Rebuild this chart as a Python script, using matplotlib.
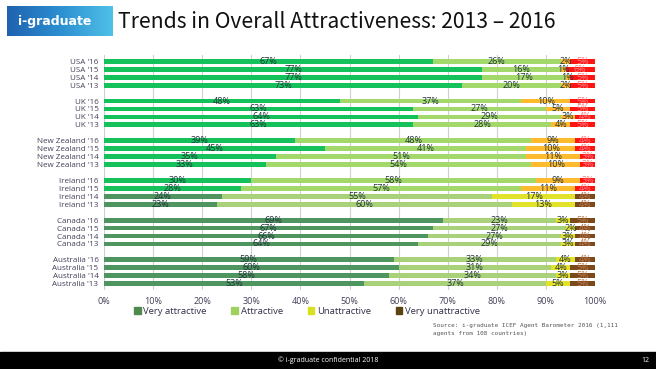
import matplotlib.pyplot as plt
from matplotlib.patches import Rectangle
import numpy as np

plt.rcParams['font.family'] = ['Open Sans', 'DejaVu Sans']

# rows top to bottom, None marks the gap between country groups
rows = ["USA '16", "USA '15", "USA '14", "USA '13", None,
        "UK '16", "UK '15", "UK '14", "UK '13", None,
        "New Zealand '16", "New Zealand '15", "New Zealand '14", "New Zealand '13", None,
        "Ireland '16", "Ireland '15", "Ireland '14", "Ireland '13", None,
        "Canada '16", "Canada '15", "Canada '14", "Canada '13", None,
        "Australia '16", "Australia '15", "Australia '14", "Australia '13"]

very_attractive = [67, 77, 77, 73, None, 48, 63, 64, 63, None,
                   39, 45, 35, 33, None, 30, 28, 24, 23, None,
                   69, 67, 66, 64, None, 59, 60, 58, 53]
attractive = [26, 16, 17, 20, None, 37, 27, 29, 28, None,
              48, 41, 51, 54, None, 58, 57, 55, 60, None,
              23, 27, 27, 29, None, 33, 31, 34, 37]
unattractive = [2, 1, 1, 2, None, 10, 5, 3, 4, None,
                9, 10, 11, 10, None, 9, 11, 17, 13, None,
                3, 2, 3, 3, None, 4, 4, 3, 5]
very_unattractive = [5, 6, 5, 5, None, 5, 5, 4, 5, None,
                     4, 4, 3, 3, None, 3, 4, 4, 4, None,
                     5, 4, 4, 4, None, 4, 5, 5, 5]

legend_labels = ['Very attractive', 'Attractive', 'Unattractive', 'Very unattractive']

# two colour schemes appear on the slide (bright vs. muted rows)
bright = ['#14c15a', '#a3d96a', '#ffbb2e', '#ff1414']
muted = ['#4f9560', '#a9d17a', '#e2e22a', '#7a4a1c']
scheme = ['b'] * 17 + ['m'] * 12

fig = plt.figure(figsize=(6.56, 3.69), dpi=100)

# header logo + title
logo = fig.add_axes([7 / 656, 1 - 36 / 369, 105 / 656, 30 / 369])
grad = np.linspace(0, 1, 200).reshape(1, -1)
logo.imshow(grad, aspect='auto', cmap=plt.matplotlib.colors.LinearSegmentedColormap.from_list(
    'g', ['#1f62b0', '#2c8fd0', '#4fc0e8']), extent=[0, 1, 0, 1])
logo.text(0.45, 0.5, 'i-graduate', color='white', fontsize=9, fontweight='bold',
          ha='center', va='center', family=['DejaVu Sans'])
logo.axis('off')
fig.text(118 / 656, 1 - 22 / 369, 'Trends in Overall Attractiveness: 2013 \u2013 2016',
         fontsize=15.2, va='center', ha='left', color='#111111', family=['Noto Sans CJK KR', 'DejaVu Sans'])

ax = fig.add_axes([104 / 656, 1 - 290 / 369, 491 / 656, (290 - 55) / 369])

for i, lab in enumerate(rows):
    if lab is None:
        continue
    cols = bright if scheme[i] == 'b' else muted
    vals = [very_attractive[i], attractive[i], unattractive[i], very_unattractive[i]]
    left = 0
    for k, v in enumerate(vals):
        w = v if k < 3 else 100 - left
        ax.barh(i, w, left=left, height=0.6, color=cols[k], zorder=2)
        if k == 3:
            tc = '#ff8080' if scheme[i] == 'b' else '#c07a50'
        else:
            tc = '#22333a'
        ax.text(left + w / 2, i, f'{v}%', ha='center', va='center', fontsize=6.5,
                color=tc, zorder=3)
        left += w

ax.set_ylim(len(rows) - 0.2, -0.8)
ax.set_xlim(0, 100)
ax.set_yticks([i for i, l in enumerate(rows) if l is not None])
ax.set_yticklabels([l for l in rows if l is not None], fontsize=5.8, color='#404058')
ax.set_xticks(np.arange(0, 101, 10))
ax.set_xticklabels([f'{t}%' for t in range(0, 101, 10)], fontsize=6.5, color='#404058')
ax.tick_params(length=0, pad=4)
ax.tick_params(axis='x', pad=5)
ax.grid(axis='x', color='#d0d0d0', linewidth=0.8, zorder=0)
for s in ax.spines.values():
    s.set_visible(False)

handles = [Rectangle((0, 0), 1, 1, color=c) for c in ['#4f8a4f', '#9fd060', '#d8e020', '#5a4510']]
fig.legend(handles, legend_labels, loc='center', bbox_to_anchor=(307 / 656, 1 - 311 / 369), ncol=4,
           frameon=False, fontsize=6.8, handlelength=0.7, handleheight=0.7, handletextpad=0.3,
           columnspacing=2.6, labelcolor='#303048')

fig.text(433 / 656, 1 - 326 / 369, 'Source: i-graduate ICEF Agent Barometer 2016 (1,111',
         fontsize=4.3, color='#555555', va='center', family=['DejaVu Sans Mono'])
fig.text(433 / 656, 1 - 334 / 369, 'agents from 108 countries)',
         fontsize=4.3, color='#555555', va='center', family=['DejaVu Sans Mono'])

# footer band
fig.patches.append(Rectangle((0, 0), 1, 17 / 369, transform=fig.transFigure,
                             color='black', zorder=0))
fig.text(0.5, 8.5 / 369, '\u00a9 i-graduate confidential 2018', color='white', fontsize=5,
         ha='center', va='center')
fig.text(645 / 656, 8.5 / 369, '12', color='white', fontsize=5, ha='center', va='center')

fig.savefig('out.png', dpi=100)
